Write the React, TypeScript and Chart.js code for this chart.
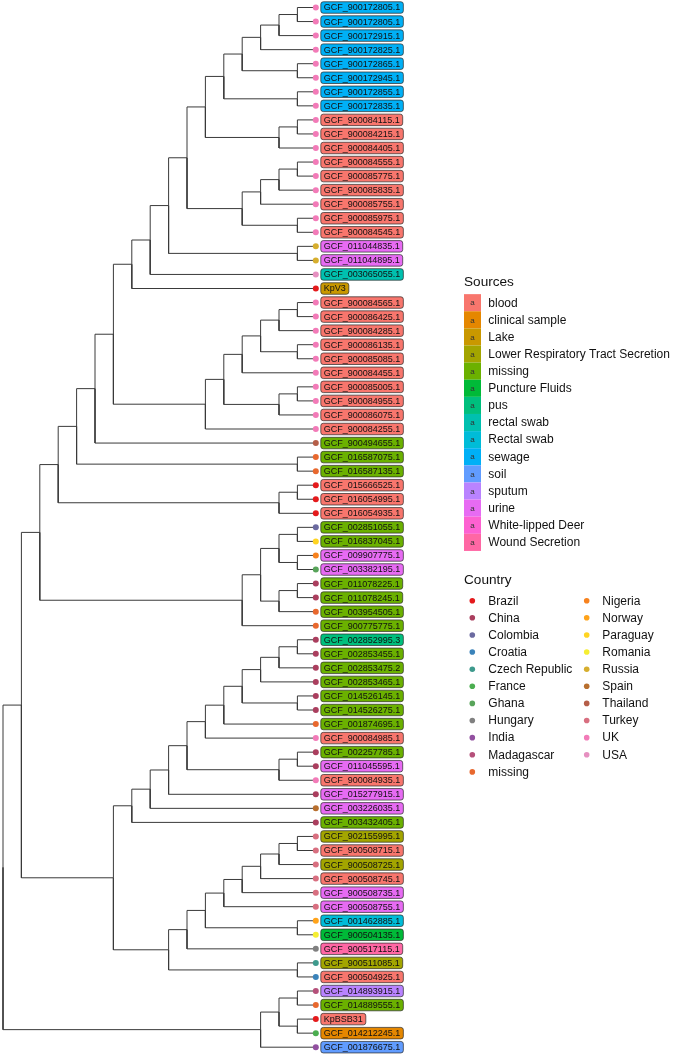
import React, { useEffect, useRef } from "react";
import { Chart, registerables } from "chart.js";

Chart.register(...registerables);

// ---------- data ----------
const tipLabels = [
  "GCF_900172805.1", "GCF_900172805.1", "GCF_900172915.1", "GCF_900172825.1", "GCF_900172865.1", "GCF_900172945.1", "GCF_900172855.1", "GCF_900172835.1",
  "GCF_900084115.1", "GCF_900084215.1", "GCF_900084405.1", "GCF_900084555.1", "GCF_900085775.1", "GCF_900085835.1", "GCF_900085755.1", "GCF_900085975.1", "GCF_900084545.1",
  "GCF_011044835.1", "GCF_011044895.1", "GCF_003065055.1", "KpV3",
  "GCF_900084565.1", "GCF_900086425.1", "GCF_900084285.1", "GCF_900086135.1", "GCF_900085085.1", "GCF_900084455.1", "GCF_900085005.1", "GCF_900084955.1", "GCF_900086075.1", "GCF_900084255.1",
  "GCF_900494655.1", "GCF_016587075.1", "GCF_016587135.1", "GCF_015666525.1", "GCF_016054995.1", "GCF_016054935.1",
  "GCF_002851055.1", "GCF_016837045.1", "GCF_009907775.1", "GCF_003382195.1", "GCF_011078225.1", "GCF_011078245.1", "GCF_003954505.1", "GCF_900775775.1",
  "GCF_002852995.3", "GCF_002853455.1", "GCF_002853475.2", "GCF_002853465.1", "GCF_014526145.1", "GCF_014526275.1", "GCF_001874695.1", "GCF_900084985.1",
  "GCF_002257785.1", "GCF_011045595.1", "GCF_900084935.1", "GCF_015277915.1", "GCF_003226035.1", "GCF_003432405.1",
  "GCF_902155995.1", "GCF_900508715.1", "GCF_900508725.1", "GCF_900508745.1", "GCF_900508735.1", "GCF_900508755.1", "GCF_001462885.1", "GCF_900504135.1", "GCF_900517115.1", "GCF_900511085.1", "GCF_900504925.1",
  "GCF_014893915.1", "GCF_014889555.1", "KpBSB31", "GCF_014212245.1", "GCF_001876675.1",
];

const LRTS = "Lower Respiratory Tract Secretion";
const tipSources = [
  "sewage", "sewage", "sewage", "sewage", "sewage", "sewage", "sewage", "sewage",
  "blood", "blood", "blood", "blood", "blood", "blood", "blood", "blood", "blood",
  "urine", "urine", "rectal swab", "Lake",
  "blood", "blood", "blood", "blood", "blood", "blood", "blood", "blood", "blood", "blood",
  "missing", "missing", "missing", "blood", "blood", "blood",
  "missing", "missing", "urine", "urine", "missing", "missing", "missing", "missing",
  "pus", "missing", "missing", "missing", "missing", "missing", "missing", "blood",
  "missing", "urine", "blood", "urine", "urine", "missing",
  LRTS, "blood", LRTS, "blood", "urine", "urine", "Rectal swab", "Puncture Fluids", "Wound Secretion", LRTS, "blood",
  "sputum", "missing", "blood", "clinical sample", "soil",
];

const tipCountries = [
  "UK", "UK", "UK", "UK", "UK", "UK", "UK", "UK",
  "UK", "UK", "UK", "UK", "UK", "UK", "UK", "UK", "UK",
  "Russia", "Russia", "USA", "Brazil",
  "UK", "UK", "UK", "UK", "UK", "UK", "UK", "UK", "UK", "UK",
  "Thailand", "missing", "missing", "Brazil", "Brazil", "Brazil",
  "Colombia", "Paraguay", "Nigeria", "Ghana", "China", "China", "missing", "missing",
  "China", "China", "China", "China", "China", "China", "missing", "UK",
  "China", "China", "UK", "China", "Spain", "China",
  "Turkey", "Turkey", "Turkey", "Turkey", "Turkey", "Turkey", "Norway", "Romania", "Hungary", "Czech Republic", "Croatia",
  "Madagascar", "missing", "Brazil", "France", "India",
];

const sourceLevels = [
  "blood", "clinical sample", "Lake", LRTS, "missing", "Puncture Fluids", "pus",
  "rectal swab", "Rectal swab", "sewage", "soil", "sputum", "urine", "White-lipped Deer", "Wound Secretion",
];
const sourceColors = [
  "#F8766D", "#E58700", "#C99800", "#A3A500", "#6BB100", "#00BA38", "#00BF7D",
  "#00C0AF", "#00BCD8", "#00B0F6", "#619CFF", "#B983FF", "#E76BF3", "#FD61D1", "#FF67A4",
];

const countryLevels = [
  "Brazil", "China", "Colombia", "Croatia", "Czech Republic", "France", "Ghana", "Hungary", "India", "Madagascar", "missing",
  "Nigeria", "Norway", "Paraguay", "Romania", "Russia", "Spain", "Thailand", "Turkey", "UK", "USA",
];
const countryColors = [
  "#E41A1C", "#AA3E5E", "#6B6AA0", "#3A83BA", "#3E9A8D", "#4BAE50", "#58A45A", "#808080", "#9250A0", "#B5507A", "#E8682E",
  "#F7821E", "#FFA31A", "#FFD422", "#F5EE32", "#D6AE2E", "#B86F2E", "#B55E48", "#D86F80", "#F27BB8", "#E690C0",
];

// tree topology (numbers = tip order)
const nwA = "(((((((1,2),3),4),(5,6)),(7,8)),((9,10),11)),((((12,13),14),15),(16,17)))";
const nwB = `(((${nwA},(18,19)),20),21)`;
const nwC = "((((((22,23),24),(25,26)),27),((28,29),30)),31)";
const nwD = `((((${nwB},${nwC}),32),(33,34)),((35,36),37))`;
const nwE = "((((38,39),(40,41)),((42,43),44)),45)";
const nwF = `(${nwD},${nwE})`;
const nwG = "(((((((46,47),48),49),(50,51)),52),53),((54,55),56))";
const nwH = `(((${nwG},57),58),59)`;
const nwI = "((((((((60,61),62),63),64),65),(66,67)),68),(69,70))";
const nwJ = `(${nwH},${nwI})`;
const nwK = "(((71,72),(73,74)),75)";
const treeNewick = `((${nwF},${nwJ}),${nwK})`;

// ---------- tree helpers ----------
type TNode = { children: TNode[]; tip: number | null; x: number; y: number; h: number };

function parseNewick(s: string): TNode {
  let i = 0;
  function parse(): TNode {
    if (s[i] === "(") {
      i++;
      const children: TNode[] = [parse()];
      while (s[i] === ",") {
        i++;
        children.push(parse());
      }
      i++;
      return { children, tip: null, x: 0, y: 0, h: 0 };
    }
    const j = i;
    while (i < s.length && /[0-9]/.test(s[i])) i++;
    return { children: [], tip: parseInt(s.slice(j, i), 10), x: 0, y: 0, h: 0 };
  }
  return parse();
}

function layout(n: TNode): void {
  if (n.tip !== null) {
    n.h = 0;
    n.y = n.tip;
    return;
  }
  n.children.forEach(layout);
  n.h = Math.max(...n.children.map((c) => c.h)) + 1;
  n.y = (n.children[0].y + n.children[n.children.length - 1].y) / 2;
}

function setX(n: TNode, maxH: number): void {
  n.x = maxH - n.h;
  n.children.forEach((c) => setX(c, maxH));
}

function collectEdges(n: TNode, out: { x: number | null; y: number | null }[]): void {
  n.children.forEach((c) => {
    out.push({ x: n.x, y: n.y }, { x: n.x, y: c.y }, { x: c.x, y: c.y }, { x: null, y: null });
    collectEdges(c, out);
  });
}

const FONT = '"Liberation Sans", Arial, Helvetica, sans-serif';

export default function App() {
  const ref = useRef<HTMLCanvasElement | null>(null);

  useEffect(() => {
    const root = parseNewick(treeNewick);
    layout(root);
    const maxH = root.h;
    setX(root, maxH);
    const edges: { x: number | null; y: number | null }[] = [];
    collectEdges(root, edges);

    const tipPts = tipLabels.map((_, i) => ({ x: maxH, y: i + 1 }));
    const tipColors = tipCountries.map((c) => countryColors[countryLevels.indexOf(c)]);

    const labelPlugin = {
      id: "tipLabels",
      afterDatasetsDraw(chart: any) {
        const { ctx, scales } = chart;
        const xs = scales.x;
        const ys = scales.y;
        ctx.save();
        ctx.font = `9px ${FONT}`;
        ctx.textBaseline = "middle";
        ctx.textAlign = "left";
        tipLabels.forEach((lab, i) => {
          const px = xs.getPixelForValue(maxH) + 5;
          const py = ys.getPixelForValue(i + 1);
          const w = ctx.measureText(lab).width + 6;
          const h = 11.5;
          ctx.beginPath();
          (ctx as any).roundRect(px, py - h / 2, w, h, 2.5);
          ctx.fillStyle = sourceColors[sourceLevels.indexOf(tipSources[i])];
          ctx.fill();
          ctx.lineWidth = 0.7;
          ctx.strokeStyle = "#2a2a2a";
          ctx.stroke();
          ctx.fillStyle = "#111";
          ctx.fillText(lab, px + 3, py + 0.5);
        });
        ctx.restore();
      },
    };

    const legendPlugin = {
      id: "treeLegends",
      afterDraw(chart: any) {
        const ctx = chart.ctx as CanvasRenderingContext2D;
        ctx.save();
        const rowH = 17.12;
        // Sources
        ctx.textBaseline = "middle";
        ctx.textAlign = "left";
        ctx.fillStyle = "#111";
        ctx.font = `13.6px ${FONT}`;
        ctx.fillText("Sources", 464, 282);
        sourceLevels.forEach((s, i) => {
          const cy = 302.7 + i * rowH;
          ctx.fillStyle = sourceColors[i];
          ctx.fillRect(464, cy - rowH / 2, 17, rowH);
          ctx.fillStyle = "#333";
          ctx.font = `8px ${FONT}`;
          ctx.textAlign = "center";
          ctx.fillText("a", 472.5, cy + 0.5);
          ctx.textAlign = "left";
          ctx.fillStyle = "#111";
          ctx.font = `12px ${FONT}`;
          ctx.fillText(s, 488.3, cy + 0.5);
        });
        // Country
        ctx.font = `13.6px ${FONT}`;
        ctx.fillStyle = "#111";
        ctx.fillText("Country", 464, 580.5);
        countryLevels.forEach((c, i) => {
          const col = i < 11 ? 0 : 1;
          const row = i < 11 ? i : i - 11;
          const cy = 600.7 + row * rowH;
          const dx = col === 0 ? 472.3 : 586.7;
          const tx = col === 0 ? 488.3 : 602.3;
          ctx.beginPath();
          ctx.arc(dx, cy, 2.8, 0, Math.PI * 2);
          ctx.fillStyle = countryColors[i];
          ctx.fill();
          ctx.fillStyle = "#111";
          ctx.font = `12px ${FONT}`;
          ctx.fillText(c, tx, cy + 0.5);
        });
        ctx.restore();
      },
    };

    const chart = new Chart(ref.current as HTMLCanvasElement, {
      type: "scatter",
      data: {
        datasets: [
          {
            label: "edges",
            data: edges as any,
            showLine: true,
            borderColor: "#3a3a3a",
            borderWidth: 1,
            pointRadius: 0,
            pointHoverRadius: 0,
            spanGaps: false,
            clip: false as any,
            order: 2,
          } as any,
          {
            label: "tips",
            data: tipPts,
            pointRadius: 3,
            pointHoverRadius: 3,
            pointBackgroundColor: tipColors,
            pointBorderWidth: 0,
            clip: false as any,
            order: 1,
          } as any,
        ],
      },
      options: {
        animation: false,
        responsive: false,
        events: [],
        layout: { padding: { left: 1.7, right: 675 - 315.8, top: 7.5, bottom: 7.8 } },
        scales: {
          x: { type: "linear", min: 0, max: 17, display: false },
          y: { type: "linear", min: 1, max: 75, reverse: true, display: false },
        },
        plugins: { legend: { display: false }, tooltip: { enabled: false } },
      },
      plugins: [labelPlugin, legendPlugin],
    });
    return () => chart.destroy();
  }, []);

  return (
    <div style={{ position: "absolute", left: 0, top: 0, width: 675, height: 1055, background: "#fff" }}>
      <canvas ref={ref} width={675} height={1055} style={{ display: "block" }} />
    </div>
  );
}
